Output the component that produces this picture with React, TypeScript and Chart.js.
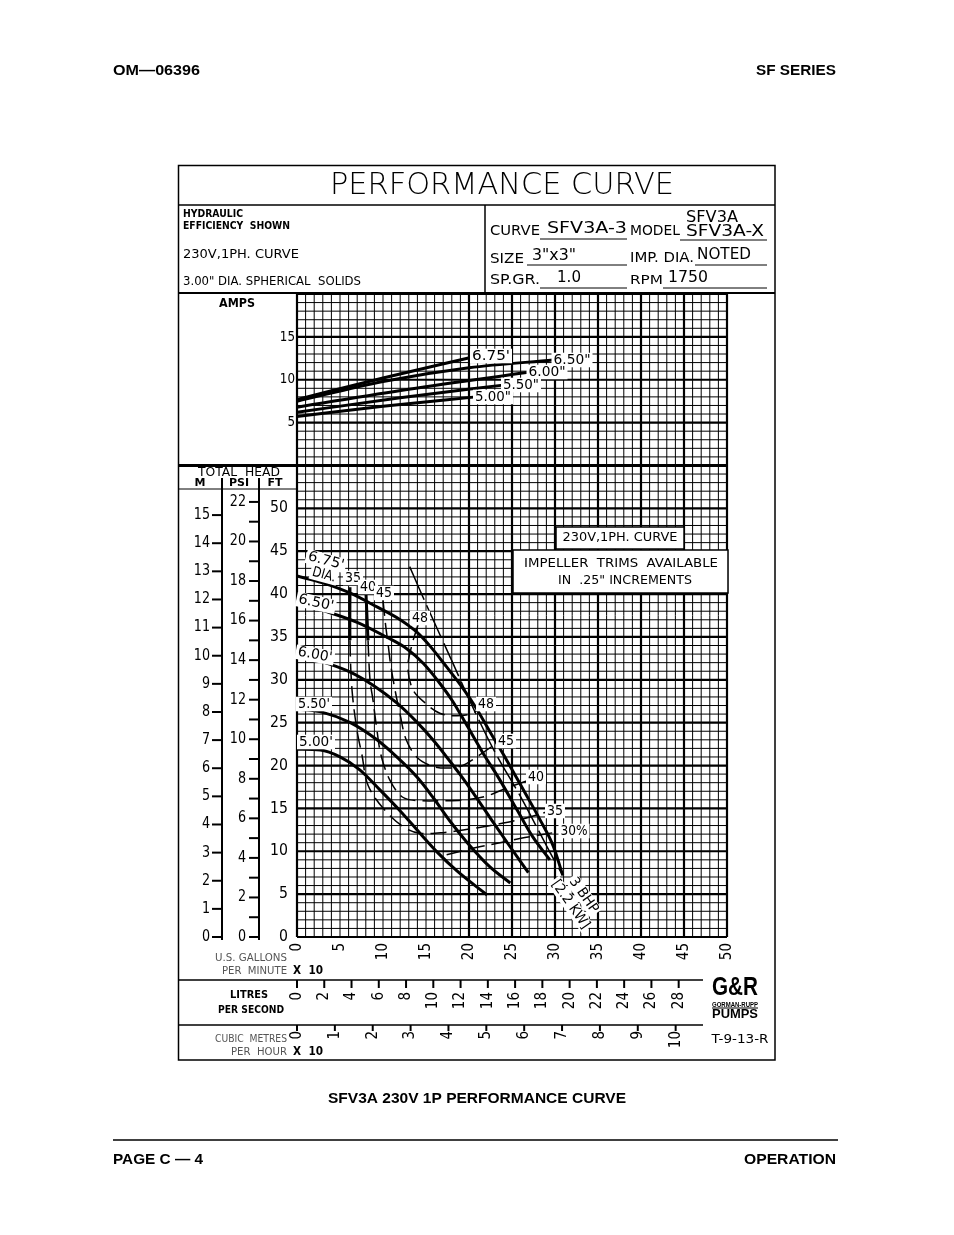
import React, { useEffect, useRef } from "react";
import { Chart, registerables } from "chart.js";
Chart.register(...registerables);

const W = 954;
const H = 1235;

// ---- axis ticks (x in units of 10 US GPM) ----
const gpmTicks = [0, 5, 10, 15, 20, 25, 30, 35, 40, 45, 50];
const ftTicks = [0, 5, 10, 15, 20, 25, 30, 35, 40, 45, 50];
const meterTicks = [0, 1, 2, 3, 4, 5, 6, 7, 8, 9, 10, 11, 12, 13, 14, 15];
const psiTicks = [0, 1, 2, 3, 4, 5, 6, 7, 8, 9, 10, 11, 12, 13, 14, 15, 16, 17, 18, 19, 20, 21, 22];
const lpsTicks = [0, 2, 4, 6, 8, 10, 12, 14, 16, 18, 20, 22, 24, 26, 28];
const m3hTicks = [0, 1, 2, 3, 4, 5, 6, 7, 8, 9, 10];
const ampTicks = [5, 10, 15];

// ---- head curves [x (10 GPM), ft] ----
const head675 = [[0, 42.1], [3.0, 41.3], [6.2, 40.1], [9.3, 38.5], [12.0, 37.0], [14.0, 35.5], [15.5, 33.9], [17.4, 31.5], [19.3, 29.0], [20.9, 26.6], [22.4, 24.0], [24.4, 20.6], [26.3, 17.2], [28.3, 13.6], [29.8, 10.6], [30.9, 7.2]];
const head650 = [[0, 39.0], [3.0, 38.1], [7.0, 36.7], [10.0, 35.2], [12.8, 33.6], [14.7, 31.9], [16.6, 29.6], [18.1, 27.5], [19.8, 24.6], [21.6, 21.5], [23.6, 18.3], [25.6, 14.8], [27.4, 11.7], [29.4, 9.0]];
const head600 = [[0, 33.1], [3.0, 32.1], [6.2, 30.9], [8.8, 29.4], [11.6, 27.3], [14.0, 25.0], [15.8, 23.0], [17.4, 21.0], [19.0, 18.9], [20.9, 16.2], [22.8, 13.4], [24.8, 10.5], [26.9, 7.5]];
const head550 = [[0, 26.6], [3.0, 26.2], [6.2, 25.0], [9.3, 23.0], [11.6, 21.0], [14.0, 18.6], [15.8, 16.3], [17.8, 13.5], [19.8, 11.0], [22.4, 8.2], [24.8, 6.3]];
const head500 = [[0, 21.9], [2.7, 21.8], [5.0, 21.0], [7.3, 19.5], [9.7, 17.1], [12.0, 14.7], [14.3, 12.1], [16.3, 9.9], [18.6, 7.7], [22.1, 4.9]];

// ---- amps curves [x, A] ----
const amps675 = [[0, 7.7], [10, 10.2], [20.2, 12.6]];
const amps650 = [[0, 7.5], [10, 9.8], [20, 11.4], [29.8, 12.3]];
const amps600 = [[0, 6.8], [13, 8.9], [27.1, 10.9]];
const amps550 = [[0, 6.2], [12, 7.9], [24.2, 9.4]];
const amps500 = [[0, 5.7], [10, 6.9], [20.8, 8.0]];

// ---- efficiency contours and power line [x, ft] ----
const eff35 = [[6.16, 40.8], [6.16, 34.6], [6.4, 28.8], [6.98, 24.1], [7.56, 21.2], [8.26, 17.7], [10.2, 14.8], [12.6, 12.7], [14.3, 12.1], [17.2, 12.2], [20.1, 12.6], [24.0, 13.3], [27.1, 14.0], [29.1, 14.6]];
const eff40 = [[8.02, 40.1], [8.26, 34.6], [8.49, 30.0], [8.84, 27.6], [9.3, 24.1], [9.77, 21.2], [10.8, 18.3], [12.3, 16.3], [14.3, 15.9], [17.2, 15.9], [19.5, 16.0], [21.9, 16.4], [24.2, 17.3], [26.7, 18.2]];
const eff45 = [[10.0, 39.3], [10.3, 36.4], [10.6, 34.1], [10.9, 31.7], [11.4, 28.8], [12.0, 25.9], [12.7, 23.0], [14.0, 20.9], [15.8, 19.9], [17.4, 19.7], [19.0, 19.9], [20.3, 20.6], [22.2, 21.9], [23.6, 22.9]];
const eff48 = [[14.07, 36.4], [13.37, 34.1], [12.9, 31.4], [13.5, 28.8], [14.9, 27.3], [16.6, 26.1], [18.4, 25.8], [20.1, 26.0], [21.6, 26.8]];
const eff30 = [[17.4, 9.6], [20.7, 10.4], [23.6, 11.0], [26.5, 11.6], [30.6, 12.3]];
const bhp3 = [[13.1, 43.2], [15.2, 38.4], [18.1, 32.0], [20.3, 27.1], [23.0, 21.6], [26.2, 16.0], [29.4, 9.9], [30.9, 7.2]];

const LPS_TO_X = 1.58503; // 1 L/s = 15.85 GPM
const M3H10_TO_X = 4.40287; // 10 m3/h = 44.03 GPM
const M_TO_FT = 3.28084;
const PSI_TO_FT = 2.3067;

const LS = "'Liberation Sans', Arial, sans-serif";
const DV = "'DejaVu Sans', sans-serif";

type TO = { size?: number; w?: number; sx?: number; align?: CanvasTextAlign; weight?: string; family?: string; rot?: number; color?: string; bg?: boolean };

function T(ctx: CanvasRenderingContext2D, s: string, x: number, y: number, o: TO = {}) {
  const size = o.size || 14;
  ctx.save();
  ctx.font = `${o.weight || "normal"} ${size}px ${o.family || DV}`;
  const mw = ctx.measureText(s).width;
  const sx = o.w ? o.w / mw : o.sx || 1;
  ctx.translate(x, y);
  if (o.rot) ctx.rotate((o.rot * Math.PI) / 180);
  ctx.scale(sx, 1);
  ctx.textBaseline = "middle";
  const align = o.align || "left";
  ctx.textAlign = align;
  if (o.bg) {
    const lx = align === "left" ? 0 : align === "center" ? -mw / 2 : -mw;
    ctx.fillStyle = "#fff";
    ctx.fillRect(lx - 2 / sx, -size * 0.52, mw + 4 / sx, size * 1.04);
  }
  ctx.fillStyle = o.color || "#000";
  ctx.fillText(s, 0, 0);
  ctx.restore();
}

function L(ctx: CanvasRenderingContext2D, x1: number, y1: number, x2: number, y2: number, lw = 1) {
  ctx.save();
  ctx.strokeStyle = "#000";
  ctx.lineWidth = lw;
  ctx.beginPath();
  ctx.moveTo(x1, y1);
  ctx.lineTo(x2, y2);
  ctx.stroke();
  ctx.restore();
}

const decor = {
  id: "decor",
  beforeDraw(chart: any) {
    const ctx = chart.ctx as CanvasRenderingContext2D;
    ctx.save();
    ctx.fillStyle = "#fff";
    ctx.fillRect(0, 0, W, H);
    ctx.restore();
  },
  beforeDatasetsDraw(chart: any) {
    const ctx = chart.ctx as CanvasRenderingContext2D;
    const x = chart.scales.x, ya = chart.scales.yAmps, yh = chart.scales.yHead;
    const left = x.getPixelForValue(0), right = x.getPixelForValue(50);
    const top = ya.getPixelForValue(20), bot = yh.getPixelForValue(0);
    for (let a = 0; a <= 20; a++) {
      const p = ya.getPixelForValue(a);
      L(ctx, left, p, right, p, a % 5 === 0 ? 2.2 : 1);
    }
    for (let f = 0; f <= 55; f++) {
      const p = yh.getPixelForValue(f);
      L(ctx, left, p, right, p, f % 5 === 0 ? 2.2 : 1);
    }
    for (let i = 0; i <= 50; i++) {
      const p = x.getPixelForValue(i);
      const thick = i === 0 || (i >= 20 && i % 5 === 0);
      L(ctx, p, top, p, bot, thick ? 2.2 : 1);
    }
    L(ctx, left, ya.getPixelForValue(0), right, ya.getPixelForValue(0), 3);
  },
  afterDatasetsDraw(chart: any) {
    const ctx = chart.ctx as CanvasRenderingContext2D;
    const xs = chart.scales.x, ya = chart.scales.yAmps, yh = chart.scales.yHead;
    const X = (v: number) => xs.getPixelForValue(v);
    const YA = (v: number) => ya.getPixelForValue(v);
    const YH = (v: number) => yh.getPixelForValue(v);
    const sep = YA(0);

    // page header / footer
    T(ctx, "OM\u201406396", 113, 71, { size: 14, weight: "bold", family: LS, w: 87 });
    T(ctx, "SF SERIES", 836, 71, { size: 14, weight: "bold", family: LS, w: 80, align: "right" });
    T(ctx, "SFV3A 230V 1P PERFORMANCE CURVE", 477, 1099, { size: 14, weight: "bold", family: LS, w: 298, align: "center" });
    L(ctx, 113, 1140, 838, 1140, 1.5);
    T(ctx, "PAGE C \u2014 4", 113, 1160, { size: 14, weight: "bold", family: LS, w: 90 });
    T(ctx, "OPERATION", 836, 1160, { size: 14, weight: "bold", family: LS, w: 92, align: "right" });

    // frame
    ctx.save();
    ctx.strokeStyle = "#000";
    ctx.lineWidth = 1.5;
    ctx.strokeRect(178.5, 165.5, 596.5, 894.5);
    ctx.restore();
    L(ctx, 178, 205, 775, 205, 1.5);
    L(ctx, 485, 205, 485, 293, 1.5);
    L(ctx, 178, 293, 775, 293, 2);
    L(ctx, 178, sep, X(0), sep, 3);
    L(ctx, 178, 489, X(0), 489, 1);
    L(ctx, 178, 980, 703, 980, 1.5);
    L(ctx, 178, 1025, 703, 1025, 1.5);

    // title & info block
    T(ctx, "PERFORMANCE CURVE", 502, 186, { size: 30, weight: "200", w: 344, align: "center" });
    T(ctx, "HYDRAULIC", 183, 214, { size: 10, weight: "bold", w: 60 });
    T(ctx, "EFFICIENCY  SHOWN", 183, 226, { size: 10, weight: "bold", w: 107 });
    T(ctx, "230V,1PH. CURVE", 183, 255, { size: 13, w: 116 });
    T(ctx, '3.00" DIA. SPHERICAL  SOLIDS', 183, 282, { size: 12, w: 178 });

    T(ctx, "CURVE", 490, 231, { size: 14, w: 50 });
    T(ctx, "SFV3A-3", 547, 229, { size: 16, w: 80 });
    L(ctx, 540, 239, 627, 239, 1);
    T(ctx, "MODEL", 630, 231, { size: 14, w: 50 });
    T(ctx, "SFV3A", 686, 218, { size: 16, w: 52 });
    T(ctx, "SFV3A-X", 686, 232, { size: 16, w: 78 });
    L(ctx, 680, 240, 767, 240, 1);
    T(ctx, "SIZE", 490, 259, { size: 14, w: 34 });
    T(ctx, '3"x3"', 532, 256, { size: 15, w: 44 });
    L(ctx, 527, 265, 627, 265, 1);
    T(ctx, "IMP. DIA.", 630, 258, { size: 14, w: 64 });
    T(ctx, "NOTED", 697, 255, { size: 15, w: 54 });
    L(ctx, 695, 265, 767, 265, 1);
    T(ctx, "SP.GR.", 490, 280, { size: 14, w: 50 });
    T(ctx, "1.0", 557, 278, { size: 15, w: 24 });
    L(ctx, 540, 288, 627, 288, 1);
    T(ctx, "RPM", 630, 281, { size: 12, w: 33 });
    T(ctx, "1750", 668, 278, { size: 15, w: 40 });
    L(ctx, 663, 288, 767, 288, 1);

    // amps axis
    T(ctx, "AMPS", 219, 304, { size: 12, weight: "bold", w: 36 });
    ampTicks.forEach((v) => T(ctx, String(v), 295, YA(v), { size: 14, sx: 0.85, align: "right" }));

    // total head axes
    T(ctx, "TOTAL  HEAD", 239, 473, { size: 12, w: 82, align: "center" });
    T(ctx, "M", 200, 483, { size: 11, weight: "bold", align: "center" });
    T(ctx, "PSI", 239, 483, { size: 11, weight: "bold", align: "center" });
    T(ctx, "FT", 275, 483, { size: 11, weight: "bold", align: "center" });
    L(ctx, 222, 478, 222, 940, 2);
    L(ctx, 259, 478, 259, 940, 2);
    meterTicks.forEach((m) => {
      const p = YH(m * M_TO_FT);
      L(ctx, 212, p, 222, p, 2);
      T(ctx, String(m), 210, p, { size: 15, sx: 0.85, align: "right" });
    });
    psiTicks.forEach((s) => {
      const p = YH(s * PSI_TO_FT);
      L(ctx, 249, p, 259, p, 2);
      if (s % 2 === 0) T(ctx, String(s), 246, p, { size: 15, sx: 0.85, align: "right" });
    });
    ftTicks.forEach((f) => T(ctx, String(f), 288, YH(f), { size: 16, sx: 0.88, align: "right" }));

    // flow axes
    gpmTicks.forEach((v) => T(ctx, String(v), X(v), 943, { size: 15, sx: 0.9, rot: -90, align: "right" }));
    T(ctx, "U.S. GALLONS", 287, 958, { size: 10, w: 72, align: "right", color: "#555" });
    T(ctx, "PER  MINUTE", 287, 971, { size: 10, w: 65, align: "right", color: "#555" });
    T(ctx, "X  10", 293, 971, { size: 12, weight: "bold", w: 30 });

    T(ctx, "LITRES", 249, 995, { size: 11, weight: "bold", w: 38, align: "center" });
    T(ctx, "PER SECOND", 251, 1010, { size: 11, weight: "bold", w: 66, align: "center" });
    lpsTicks.forEach((v) => {
      const p = X(v * LPS_TO_X);
      L(ctx, p, 980, p, 988, 2);
      T(ctx, String(v), p, 992, { size: 15, sx: 0.9, rot: -90, align: "right" });
    });

    T(ctx, "CUBIC  METRES", 287, 1039, { size: 10, w: 72, align: "right", color: "#555" });
    T(ctx, "PER  HOUR", 287, 1052, { size: 10, w: 56, align: "right", color: "#555" });
    T(ctx, "X  10", 293, 1052, { size: 12, weight: "bold", w: 30 });
    m3hTicks.forEach((v) => {
      const p = X(v * M3H10_TO_X);
      L(ctx, p, 1025, p, 1031, 2);
      T(ctx, String(v), p, 1031, { size: 15, sx: 0.9, rot: -90, align: "right" });
    });

    // logo & drawing number
    T(ctx, "G&R", 735, 988, { size: 26, weight: "900", family: LS, w: 46, align: "center" });
    T(ctx, "GORMAN-RUPP", 735, 1005, { size: 7, weight: "bold", family: LS, w: 46, align: "center" });
    L(ctx, 712, 1008, 758, 1008, 1);
    T(ctx, "PUMPS", 735, 1014, { size: 13, weight: "900", family: LS, w: 46, align: "center" });
    T(ctx, "T-9-13-R", 740, 1040, { size: 13, w: 57, align: "center" });

    // note boxes
    ctx.save();
    ctx.fillStyle = "#fff";
    ctx.strokeStyle = "#000";
    ctx.lineWidth = 1.5;
    ctx.fillRect(556, 527, 128, 22);
    ctx.strokeRect(556, 527, 128, 22);
    ctx.fillRect(513, 550, 215, 43);
    ctx.strokeRect(513, 550, 215, 43);
    ctx.restore();
    T(ctx, "230V,1PH. CURVE", 620, 538, { size: 13, w: 115, align: "center" });
    T(ctx, "IMPELLER  TRIMS  AVAILABLE", 621, 564, { size: 13, w: 194, align: "center" });
    T(ctx, 'IN  .25" INCREMENTS', 625, 581, { size: 13, w: 134, align: "center" });

    // amps curve labels
    T(ctx, "6.75'", 491, 356, { size: 14, w: 38, align: "center", bg: true });
    T(ctx, '6.50"', 572, 360, { size: 14, w: 37, align: "center", bg: true });
    T(ctx, '6.00"', 547, 372, { size: 14, w: 37, align: "center", bg: true });
    T(ctx, '5.50"', 521, 385, { size: 14, w: 36, align: "center", bg: true });
    T(ctx, '5.00"', 493, 397, { size: 14, w: 36, align: "center", bg: true });

    // head curve labels
    T(ctx, "6.75'", 326, 561, { size: 14, w: 37, align: "center", rot: 15, bg: true });
    T(ctx, "DIA.", 324, 575, { size: 14, w: 24, align: "center", rot: 15, bg: true });
    T(ctx, "6.50'", 316, 603, { size: 14, w: 36, align: "center", rot: 12, bg: true });
    T(ctx, "6.00'", 315, 655, { size: 14, w: 35, align: "center", rot: 10, bg: true });
    T(ctx, "5.50'", 314, 704, { size: 14, w: 32, align: "center", bg: true });
    T(ctx, "5.00'", 316, 742, { size: 14, w: 34, align: "center", bg: true });

    // efficiency labels
    T(ctx, "35", 353, 578, { size: 14, w: 16, align: "center", bg: true });
    T(ctx, "40", 368, 587, { size: 14, w: 16, align: "center", bg: true });
    T(ctx, "45", 384, 593, { size: 14, w: 16, align: "center", bg: true });
    T(ctx, "48", 420, 618, { size: 14, w: 16, align: "center", bg: true });
    T(ctx, "48", 486, 704, { size: 14, w: 16, align: "center", bg: true });
    T(ctx, "45", 506, 741, { size: 14, w: 16, align: "center", bg: true });
    T(ctx, "40", 536, 777, { size: 14, w: 16, align: "center", bg: true });
    T(ctx, "35", 555, 811, { size: 14, w: 16, align: "center", bg: true });
    T(ctx, "30%", 574, 831, { size: 14, w: 27, align: "center", bg: true });

    // power label
    ctx.save();
    ctx.translate(577, 900);
    ctx.rotate((55 * Math.PI) / 180);
    T(ctx, "3 BHP", 0, -8, { size: 14, w: 40, align: "center", bg: true });
    T(ctx, "[2.2 KW]", 0, 8, { size: 14, w: 56, align: "center", bg: true });
    ctx.restore();
  },
};

const pts = (a: number[][]) => a.map(([x, y]) => ({ x, y }));

export default function App() {
  const ref = useRef<HTMLCanvasElement>(null);
  useEffect(() => {
    if (!ref.current) return;
    const headDs = (d: number[][]) => ({ data: pts(d), yAxisID: "yHead", borderColor: "#000", borderWidth: 3, cubicInterpolationMode: "monotone" as const, pointRadius: 0 });
    const ampDs = (d: number[][]) => ({ data: pts(d), yAxisID: "yAmps", borderColor: "#000", borderWidth: 3, cubicInterpolationMode: "monotone" as const, pointRadius: 0 });
    const effDs = (d: number[][], thickStart: boolean) => ({
      data: pts(d),
      yAxisID: "yHead",
      borderColor: "#000",
      borderWidth: 1.5,
      borderDash: [16, 7],
      tension: 0.35,
      pointRadius: 0,
      segment: thickStart
        ? { borderWidth: (c: any) => (c.p0DataIndex === 0 ? 3 : 1.5), borderDash: (c: any) => (c.p0DataIndex === 0 ? [] : [16, 7]) }
        : undefined,
    });
    const chart = new Chart(ref.current, {
      type: "line",
      data: {
        datasets: [
          headDs(head675), headDs(head650), headDs(head600), headDs(head550), headDs(head500),
          ampDs(amps675), ampDs(amps650), ampDs(amps600), ampDs(amps550), ampDs(amps500),
          effDs(eff35, true), effDs(eff40, true), effDs(eff45, false), effDs(eff48, false), effDs(eff30, false),
          { data: pts(bhp3), yAxisID: "yHead", borderColor: "#000", borderWidth: 1.5, borderDash: [36, 6], tension: 0.3, pointRadius: 0 },
        ] as any,
      },
      options: {
        responsive: false,
        animation: false,
        devicePixelRatio: 1,
        events: [],
        layout: { padding: { left: 297, right: W - 727, top: 294, bottom: H - 937 } },
        plugins: { legend: { display: false }, tooltip: { enabled: false } },
        scales: {
          x: { type: "linear", min: 0, max: 50, display: false },
          yHead: { type: "linear", min: 0, max: 75, display: false },
          yAmps: { type: "linear", min: -55, max: 20, display: false },
        },
        elements: { point: { radius: 0 }, line: { fill: false } },
      } as any,
      plugins: [decor],
    });
    return () => chart.destroy();
  }, []);
  return (
    <div style={{ position: "absolute", left: 0, top: 0, width: W, height: H, background: "#fff" }}>
      <canvas ref={ref} width={W} height={H} style={{ width: W, height: H, display: "block" }} />
    </div>
  );
}
